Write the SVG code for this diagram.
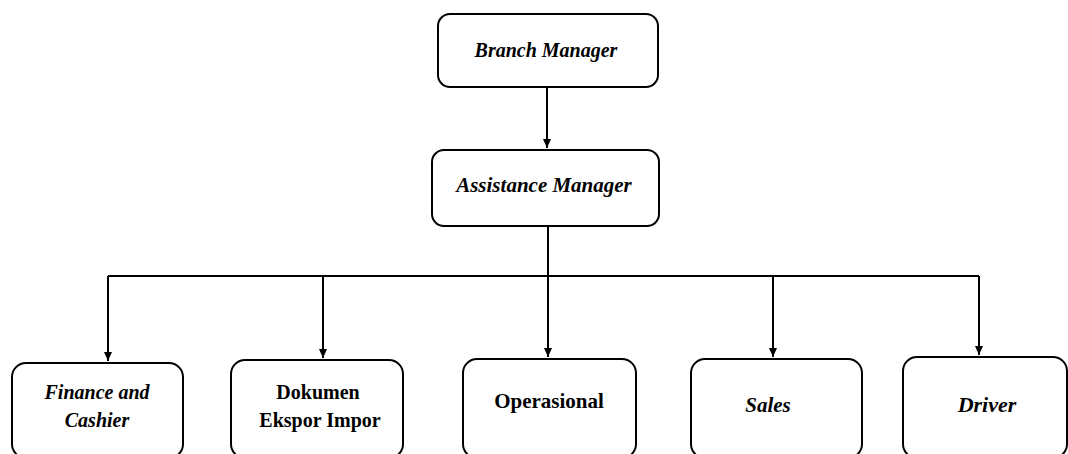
<svg xmlns="http://www.w3.org/2000/svg" width="1068" height="454" viewBox="0 0 1068 454">
<style>
.box{fill:#fff;stroke:#000;stroke-width:2}
.c{stroke:#000;stroke-width:2;fill:none}
</style>
<defs>
<marker id="ah" markerWidth="10" markerHeight="10" refX="9" refY="5" orient="auto" markerUnits="userSpaceOnUse">
<path d="M0,1 L9,5 L0,9 Z" fill="#000"/>
</marker>
</defs>
<rect width="1068" height="454" fill="#fff"/>
<g id="connectors">
<path class="c" d="M547,87 V148" marker-end="url(#ah)"/>
<path class="c" d="M548,226 V276"/>
<path class="c" d="M108,276 H979"/>
<path class="c" d="M108,276 V361" marker-end="url(#ah)"/>
<path class="c" d="M323,276 V358" marker-end="url(#ah)"/>
<path class="c" d="M548,276 V357" marker-end="url(#ah)"/>
<path class="c" d="M773,276 V357" marker-end="url(#ah)"/>
<path class="c" d="M979,276 V355" marker-end="url(#ah)"/>
</g>
<g id="branch-manager">
<rect class="box" x="438" y="14" width="220" height="73" rx="12"/>
<text x="546" y="57" font-family="Liberation Serif" font-weight="bold" font-style="italic" text-anchor="middle" font-size="20">Branch Manager</text>
</g>
<g id="assistance-manager">
<rect class="box" x="432" y="150" width="227" height="76" rx="12"/>
<text x="544" y="192" font-family="Liberation Serif" font-weight="bold" font-style="italic" text-anchor="middle" font-size="21">Assistance Manager</text>
</g>
<g id="finance">
<rect class="box" x="12" y="363" width="171" height="95" rx="14"/>
<text x="97" y="399" font-family="Liberation Serif" font-weight="bold" font-style="italic" text-anchor="middle" font-size="20">Finance and</text>
<text x="97" y="427" font-family="Liberation Serif" font-weight="bold" font-style="italic" text-anchor="middle" font-size="20">Cashier</text>
</g>
<g id="dokumen">
<rect class="box" x="231" y="360" width="172" height="98" rx="14"/>
<text x="318" y="399" font-family="Liberation Serif" font-weight="bold" text-anchor="middle" font-size="20">Dokumen</text>
<text x="320" y="427" font-family="Liberation Serif" font-weight="bold" text-anchor="middle" font-size="20">Ekspor Impor</text>
</g>
<g id="operasional">
<rect class="box" x="463" y="359" width="173" height="99" rx="14"/>
<text x="549" y="408" font-family="Liberation Serif" font-weight="bold" text-anchor="middle" font-size="21">Operasional</text>
</g>
<g id="sales">
<rect class="box" x="691" y="359" width="171" height="99" rx="14"/>
<text x="768" y="412" font-family="Liberation Serif" font-weight="bold" font-style="italic" text-anchor="middle" font-size="21">Sales</text>
</g>
<g id="driver">
<rect class="box" x="903" y="357" width="164" height="101" rx="14"/>
<text x="987" y="412" font-family="Liberation Serif" font-weight="bold" font-style="italic" text-anchor="middle" font-size="22">Driver</text>
</g>
</svg>
